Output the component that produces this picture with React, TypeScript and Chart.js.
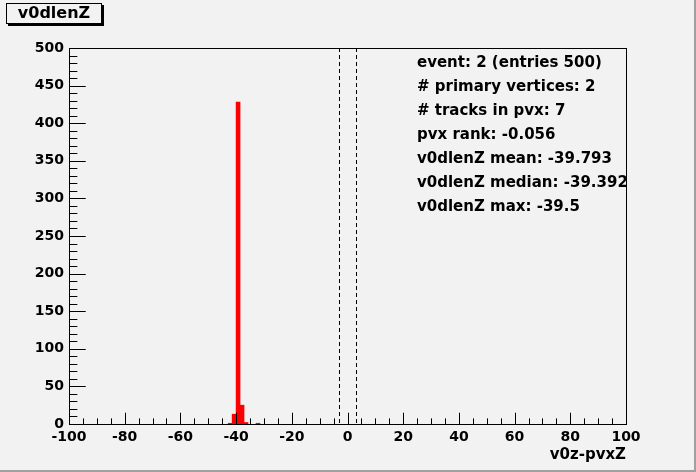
import { useEffect, useRef } from "react";
import { Chart, registerables } from "chart.js";

Chart.register(...registerables);

const W = 696;
const H = 472;

// Histogram axis ranges
const X_MIN = -100;
const X_MAX = 100;
const Y_MIN = 0;
const Y_MAX = 500;
const X_TICK_STEP = 20;
const X_MINOR_STEP = 5;
const Y_TICK_STEP = 50;
const Y_MINOR_STEP = 10;

// Non-empty histogram bins (bin centres, 140 bins over [-100, 100])
const BIN_CENTERS = [-42.14, -40.71, -39.29, -37.86, -36.43, -32.14];
const BIN_COUNTS = [1, 13, 428, 25, 2, 1];

// Dashed cut lines
const CUT_LINES = [-3, 3];

const TITLE = "v0dlenZ";
const X_TITLE = "v0z-pvxZ";
const STATS_LINES = [
  "event: 2 (entries 500)",
  "# primary vertices: 2",
  "# tracks in pvx: 7",
  "pvx rank: -0.056",
  "v0dlenZ mean: -39.793",
  "v0dlenZ median: -39.392",
  "v0dlenZ max: -39.5",
];

const FONT_FAMILY = "DejaVu Sans";

const rootPlugin = {
  id: "rootStyle",
  beforeDraw(chart: any) {
    const ctx = chart.ctx;
    ctx.save();
    ctx.fillStyle = "#f2f2f2";
    ctx.fillRect(0, 0, W, H);
    ctx.fillStyle = "#a0a0a0";
    ctx.fillRect(W - 2, 0, 2, H);
    ctx.fillRect(0, H - 2, W, 2);
    ctx.restore();
  },
  afterDraw(chart: any) {
    const { ctx, chartArea: a, scales } = chart;
    const x = scales.x;
    const y = scales.y;
    const left = Math.round(a.left);
    const right = Math.round(a.right);
    const top = Math.round(a.top);
    const bottom = Math.round(a.bottom);
    const plotW = right - left;
    const plotH = bottom - top;
    ctx.save();
    ctx.strokeStyle = "#000";
    ctx.lineWidth = 1;

    // dashed cut lines
    ctx.setLineDash([4, 3]);
    for (const v of CUT_LINES) {
      const px = Math.round(x.getPixelForValue(v)) + 0.5;
      ctx.beginPath();
      ctx.moveTo(px, top);
      ctx.lineTo(px, bottom);
      ctx.stroke();
    }
    ctx.setLineDash([]);

    // frame
    ctx.strokeRect(left + 0.5, top + 0.5, plotW, plotH);

    // x ticks (inside)
    const xMajor = 0.03 * plotH;
    ctx.beginPath();
    for (let v = X_MIN; v <= X_MAX + 1e-9; v += X_MINOR_STEP) {
      const major = Math.abs(v % X_TICK_STEP) < 1e-9;
      const len = major ? xMajor : xMajor / 2;
      const px = Math.round(x.getPixelForValue(v)) + 0.5;
      ctx.moveTo(px, bottom);
      ctx.lineTo(px, bottom - len);
    }
    // y ticks (inside)
    const yMajor = 0.03 * plotW;
    for (let v = Y_MIN; v <= Y_MAX + 1e-9; v += Y_MINOR_STEP) {
      const major = Math.abs(v % Y_TICK_STEP) < 1e-9;
      const len = major ? yMajor : yMajor / 2;
      const py = Math.round(y.getPixelForValue(v)) + 0.5;
      ctx.moveTo(left, py);
      ctx.lineTo(left + len, py);
    }
    ctx.stroke();

    // stats text
    ctx.fillStyle = "#000";
    ctx.font = `bold 15px "${FONT_FAMILY}"`;
    ctx.textAlign = "left";
    ctx.textBaseline = "middle";
    STATS_LINES.forEach((line, i) => {
      ctx.fillText(line, 417, 63 + i * 24);
    });

    // title box with shadow
    ctx.fillStyle = "#f2f2f2";
    ctx.fillRect(6, 3, 96, 21);
    ctx.strokeRect(6.5, 3.5, 95, 20);
    ctx.fillStyle = "#000";
    ctx.fillRect(102, 5, 2, 21);
    ctx.fillRect(8, 24, 96, 2);
    ctx.font = `bold 16px "${FONT_FAMILY}"`;
    ctx.textAlign = "center";
    ctx.textBaseline = "middle";
    ctx.fillText(TITLE, 54, 14);
    ctx.restore();
  },
};

export default function App() {
  const canvasRef = useRef<HTMLCanvasElement | null>(null);

  useEffect(() => {
    document.body.style.margin = "0";
    const canvas = canvasRef.current;
    if (!canvas) return;
    const tickFont = { family: FONT_FAMILY, size: 14, weight: "bold" as const };
    const chart = new Chart(canvas, {
      type: "bar",
      data: {
        datasets: [
          {
            data: BIN_CENTERS.map((c, i) => ({ x: c, y: BIN_COUNTS[i] })),
            backgroundColor: "#ff0000",
            borderWidth: 0,
            barPercentage: 1,
            categoryPercentage: 1,
          },
        ],
      },
      options: {
        responsive: false,
        animation: false,
        events: [],
        layout: { padding: { top: 48, right: 70, left: 0, bottom: 0 } },
        plugins: {
          legend: { display: false },
          title: { display: false },
          tooltip: { enabled: false },
        },
        scales: {
          x: {
            type: "linear",
            min: X_MIN,
            max: X_MAX,
            offset: false,
            grid: { display: false, drawTicks: false },
            border: { display: false },
            ticks: {
              stepSize: X_TICK_STEP,
              font: tickFont,
              color: "#000",
              padding: 5,
              maxRotation: 0,
              autoSkip: false,
            },
            title: {
              display: true,
              text: X_TITLE,
              align: "end",
              color: "#000",
              font: { family: FONT_FAMILY, size: 15, weight: "bold" },
              padding: { top: 0, bottom: 8 },
            },
            afterFit: (s: any) => {
              s.height = 48;
            },
          },
          y: {
            type: "linear",
            min: Y_MIN,
            max: Y_MAX,
            grid: { display: false, drawTicks: false },
            border: { display: false },
            ticks: {
              stepSize: Y_TICK_STEP,
              font: tickFont,
              color: "#000",
              padding: 5,
            },
            afterFit: (s: any) => {
              s.width = 69;
            },
          },
        },
      } as any,
      plugins: [rootPlugin],
    });
    return () => chart.destroy();
  }, []);

  return (
    <div style={{ position: "fixed", left: 0, top: 0, width: W, height: H }}>
      <canvas ref={canvasRef} width={W} height={H} style={{ width: W, height: H, display: "block" }} />
    </div>
  );
}
